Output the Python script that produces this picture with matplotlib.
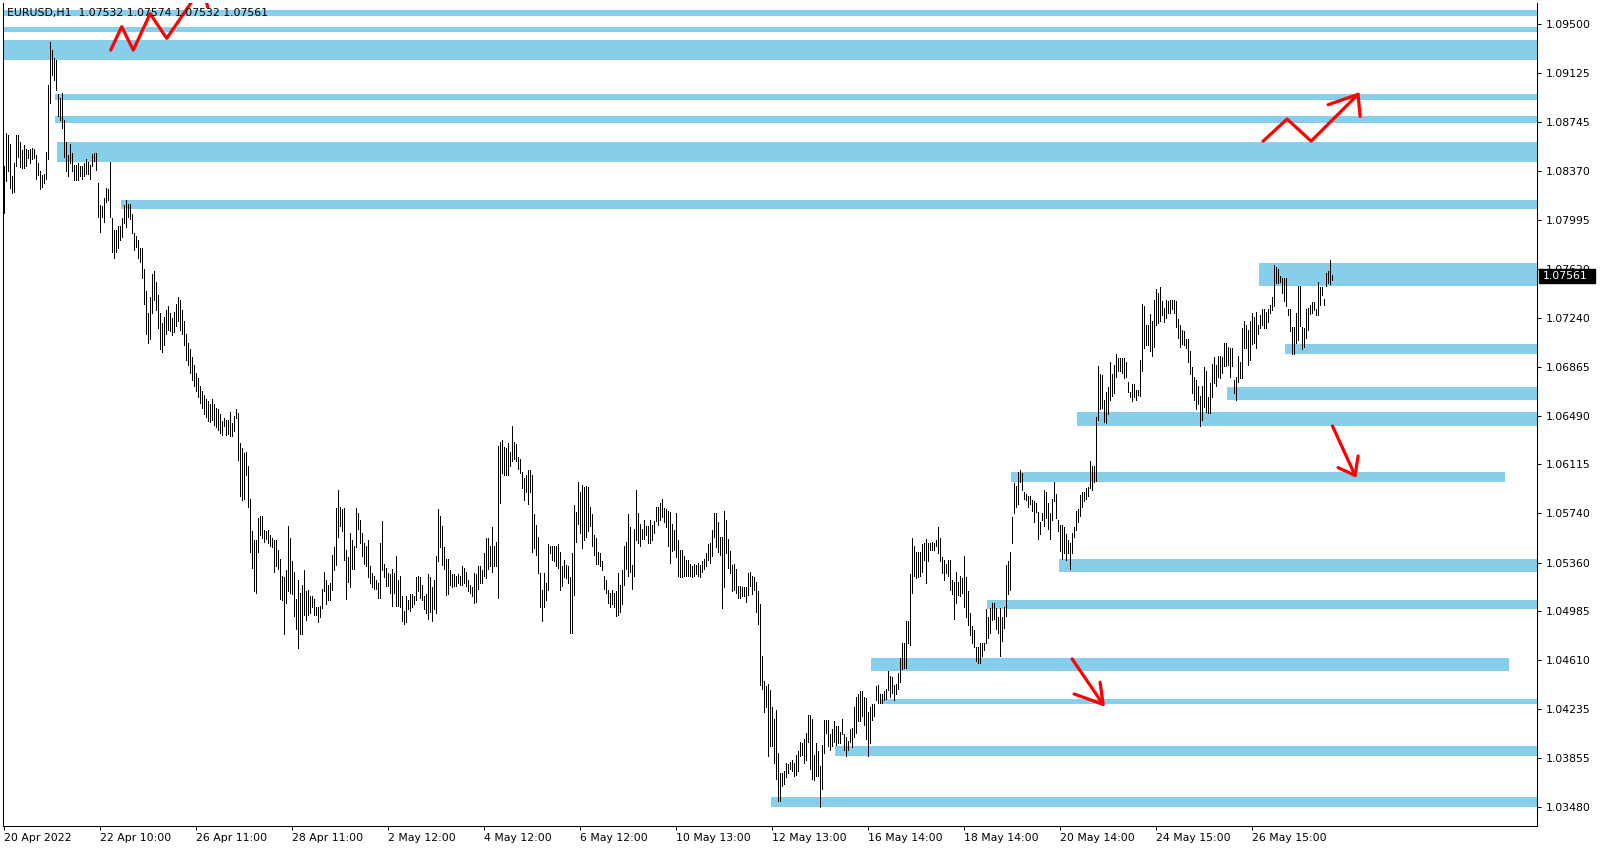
import matplotlib
matplotlib.use("Agg")
import matplotlib.pyplot as plt
from matplotlib.patches import Rectangle
from matplotlib.transforms import blended_transform_factory
import numpy as np

plt.rcParams['font.family'] = ['DejaVu Sans']

# ---------------- data ----------------
title_text = "EURUSD,H1  1.07532 1.07574 1.07532 1.07561"
last_price = 1.07561

bar_high = [
 1.0841,1.0866,1.0865,1.0858,1.0833,1.0843,1.0865,1.0865,1.0859,1.0853,
 1.0857,1.0854,1.0853,1.0854,1.0855,1.0854,1.0849,1.0843,1.0837,1.0834,
 1.0835,1.0852,1.0903,1.0936,1.0930,1.0924,1.0922,1.0896,1.0893,1.0897,
 1.0876,1.0859,1.0849,1.0858,1.0851,1.0842,1.0842,1.0843,1.0841,1.0841,
 1.0843,1.0846,1.0844,1.0842,1.0850,1.0851,1.0851,1.0828,1.0811,1.0810,
 1.0816,1.0824,1.0823,1.0844,1.0801,1.0792,1.0792,1.0795,1.0795,1.0801,
 1.0811,1.0815,1.0812,1.0812,1.0804,1.0789,1.0787,1.0784,1.0778,1.0778,
 1.0762,1.0745,1.0728,1.0740,1.0758,1.0760,1.0752,1.0742,1.0728,1.0720,
 1.0725,1.0730,1.0733,1.0728,1.0724,1.0729,1.0735,1.0740,1.0738,1.0730,
 1.0722,1.0712,1.0705,1.0700,1.0694,1.0688,1.0682,1.0678,1.0672,1.0668,
 1.0665,1.0662,1.0660,1.0658,1.0662,1.0658,1.0655,1.0654,1.0650,
 1.0645,1.0647,1.0646,1.0646,1.0652,1.0643,1.0649,1.0654,1.0651,1.0628,
 1.0624,1.0620,1.0621,1.0610,1.0585,1.0560,1.0553,1.0553,1.0570,1.0572,
 1.0572,1.0561,1.0560,1.0561,1.0557,1.0555,1.0553,1.0553,1.0546,1.0539,
 1.0526,1.0525,1.0530,1.0564,1.0555,1.0537,1.0529,1.0508,1.0523,1.0513,
 1.0519,1.0530,1.0514,1.0515,1.0510,1.0510,1.0508,1.0502,1.0502,1.0503,
 1.0516,1.0529,1.0523,1.0519,1.0520,1.0542,1.0548,1.0578,1.0592,1.0579,
 1.0577,1.0578,1.0546,1.0540,1.0559,1.0553,1.0549,1.0578,1.0574,1.0569,
 1.0559,1.0551,1.0549,1.0553,1.0533,1.0528,1.0526,1.0523,1.0520,1.0551,
 1.0568,1.0535,1.0532,1.0528,1.0527,1.0531,1.0528,1.0541,1.0523,1.0526,
 1.0510,1.0499,1.0510,1.0507,1.0512,1.0512,1.0510,1.0525,1.0526,1.0525,
 1.0519,1.0510,1.0512,1.0527,1.0525,1.0517,1.0523,1.0541,1.0577,
 1.0572,1.0564,1.0548,1.0539,1.0539,1.0530,1.0527,1.0527,1.0526,1.0527,
 1.0526,1.0533,1.0532,1.0529,1.0523,1.0519,1.0517,1.0528,1.0527,1.0533,
 1.0533,1.0530,1.0543,1.0555,1.0555,1.0549,1.0563,1.0549,1.0552,1.0626,
 1.0629,1.0630,1.0625,1.0624,1.0628,1.0621,1.0641,1.0629,1.0627,1.0617,
 1.0616,1.0606,1.0601,1.0603,1.0607,1.0607,1.0603,1.0573,1.0565,1.0556,
 1.0528,1.0515,1.0528,1.0520,1.0550,1.0549,1.0549,1.0549,1.0549,1.0550,
 1.0544,1.0533,1.0538,1.0534,1.0533,1.0525,1.0543,1.0580,1.0575,1.0598,
 1.0590,1.0596,1.0594,1.0595,1.0594,1.0579,1.0573,1.0557,1.0555,1.0544,
 1.0543,1.0537,1.0526,1.0523,1.0515,1.0513,1.0515,1.0513,1.0514,1.0528,
 1.0519,1.0530,1.0549,1.0552,1.0573,1.0563,1.0534,1.0562,1.0592,1.0574,
 1.0566,1.0562,1.0569,1.0564,1.0564,1.0569,1.0565,1.0568,1.0579,1.0579,
 1.0582,1.0585,1.0578,1.0577,1.0576,1.0575,1.0566,1.0561,1.0574,
 1.0553,1.0546,1.0546,1.0541,1.0538,1.0538,1.0535,1.0533,1.0535,1.0534,
 1.0536,1.0534,1.0537,1.0539,1.0543,1.0550,1.0551,1.0561,1.0574,1.0574,
 1.0567,1.0556,1.0556,1.0576,1.0569,1.0554,1.0545,1.0534,1.0535,1.0531,
 1.0518,1.0518,1.0517,1.0517,1.0517,1.0528,1.0529,1.0526,1.0525,1.0521,
 1.0514,1.0504,1.0464,1.0445,1.0441,1.0443,1.0438,1.0425,1.0416,1.0423,
 1.0390,1.0374,1.0374,1.0376,1.0382,1.0381,1.0383,1.0384,1.0382,1.0388,
 1.0391,1.0398,1.0397,1.0400,1.0405,1.0419,1.0419,1.0416,1.0388,1.0397,
 1.0391,1.0380,1.0396,1.0415,1.0415,1.0415,1.0404,1.0408,1.0414,1.0410,
 1.0410,1.0406,1.0416,1.0404,1.0402,1.0399,1.0408,1.0409,1.0425,1.0433,
 1.0435,1.0437,1.0437,1.0433,1.0432,1.0421,1.0425,1.0427,1.0427,1.0441,
 1.0442,1.0435,1.0435,1.0437,1.0439,1.0453,1.0449,1.0448,1.0442,1.0443,
 1.0451,1.0463,
 1.0474,1.0474,1.0491,1.0491,1.0527,1.0555,1.0549,1.0544,1.0544,1.0544,
 1.0550,1.0551,1.0554,1.0551,1.0551,1.0552,1.0551,1.0553,1.0563,1.0555,
 1.0540,1.0538,1.0535,1.0538,1.0538,1.0523,1.0521,1.0529,1.0521,1.0526,
 1.0524,1.0541,1.0525,1.0514,1.0497,1.0487,1.0484,1.0471,1.0471,1.0474,
 1.0474,1.0474,1.0500,1.0494,1.0501,1.0505,1.0505,1.0501,1.0494,1.0501,
 1.0494,1.0502,1.0534,1.0537,1.0544,1.0571,1.0597,1.0595,1.0606,1.0607,
 1.0605,1.0590,1.0589,1.0587,1.0587,1.0584,1.0583,1.0582,1.0575,1.0567,
 1.0574,1.0592,1.0590,1.0582,1.0574,1.0585,1.0598,1.0589,1.0569,1.0565,
 1.0565,1.0563,1.0558,1.0553,1.0551,1.0559,1.0563,1.0576,1.0577,1.0588,
 1.0590,1.0590,1.0593,1.0594,1.0614,1.0610,1.0610,1.0648,1.0687,1.0681,
 1.0680,1.0661,1.0667,1.0671,1.0690,1.0681,1.0688,
 1.0696,1.0693,1.0693,1.0693,1.0693,1.0690,1.0675,1.0667,1.0673,1.0673,
 1.0669,1.0669,1.0692,1.0735,1.0733,1.0719,1.0719,1.0727,1.0722,1.0738,
 1.0746,1.0743,1.0748,1.0737,1.0732,1.0738,1.0737,1.0738,1.0738,1.0738,
 1.0737,1.0723,1.0719,1.0715,1.0714,1.0708,1.0708,1.0699,1.0686,1.0679,
 1.0676,1.0672,1.0664,1.0672,1.0686,1.0683,1.0663,1.0674,1.0689,1.0694,
 1.0688,1.0695,1.0695,1.0694,1.0705,1.0705,1.0702,1.0701,1.0701,1.0676,
 1.0679,1.0695,1.0690,1.0716,1.0722,1.0719,1.0715,1.0722,1.0728,1.0725,
 1.0729,1.0719,1.0726,1.0731,1.0731,1.0729,1.0731,1.0734,1.0740,1.0765,
 1.0763,1.0762,1.0756,1.0755,1.0755,1.0755,1.0731,1.0731,1.0717,1.0717,
 1.0728,1.0749,1.0749,1.0717,1.0716,1.0731,1.0732,1.0734,1.0736,1.0736,
 1.0731,1.0752,1.0748,1.0748,1.0739,1.0759,1.0760,1.0769,1.07574,
]

bar_low = [
 1.0805,1.0829,1.0837,1.0824,1.0820,1.0821,1.0841,1.0848,1.0840,1.0839,
 1.0839,1.0841,1.0847,1.0843,1.0846,1.0847,1.0831,1.0834,1.0823,1.0825,
 1.0828,1.0831,1.0846,1.0889,1.0911,1.0907,1.0899,1.0879,1.0876,1.0870,
 1.0848,1.0837,1.0833,1.0843,1.0837,1.0830,1.0830,1.0830,1.0833,1.0831,
 1.0833,1.0835,1.0835,1.0831,1.0841,1.0845,1.0838,1.0802,1.0790,1.0802,
 1.0798,1.0813,1.0815,1.0802,1.0775,1.0770,1.0775,1.0778,1.0784,1.0786,
 1.0797,1.0794,1.0802,1.0800,1.0789,1.0776,1.0779,1.0770,1.0767,1.0755,
 1.0735,1.0712,1.0705,1.0708,1.0728,1.0738,1.0730,1.0716,1.0700,1.0698,
 1.0703,1.0712,1.0715,1.0714,1.0711,1.0713,1.0718,1.0722,1.0715,1.0712,
 1.0703,1.0692,1.0688,1.0682,1.0676,1.0672,1.0668,1.0663,1.0659,1.0655,
 1.0650,1.0648,1.0645,1.0644,1.0646,1.0642,1.0640,1.0638,1.0636,
 1.0634,1.0641,1.0634,1.0635,1.0633,1.0633,1.0637,1.0647,1.0615,1.0587,
 1.0584,1.0585,1.0603,1.0579,1.0544,1.0532,1.0514,1.0513,1.0544,1.0557,
 1.0555,1.0552,1.0554,1.0551,1.0549,1.0548,1.0529,1.0533,1.0531,1.0508,
 1.0507,1.0481,1.0505,1.0514,1.0513,1.0512,1.0495,1.0485,1.0470,1.0481,
 1.0481,1.0496,1.0492,1.0496,1.0497,1.0502,1.0496,1.0496,1.0490,1.0494,
 1.0501,1.0514,1.0504,1.0507,1.0507,1.0515,1.0530,1.0534,1.0556,1.0564,
 1.0560,1.0538,1.0508,1.0521,1.0517,1.0531,1.0531,1.0548,1.0562,1.0551,
 1.0541,1.0535,1.0533,1.0525,1.0520,1.0517,1.0516,1.0516,1.0509,1.0509,
 1.0530,1.0525,1.0518,1.0518,1.0513,1.0503,1.0513,1.0503,1.0503,1.0502,
 1.0491,1.0489,1.0490,1.0500,1.0499,1.0502,1.0504,1.0507,1.0514,1.0509,
 1.0507,1.0500,1.0497,1.0493,1.0498,1.0491,1.0500,1.0497,1.0537,
 1.0548,1.0534,1.0531,1.0511,1.0512,1.0519,1.0517,1.0518,1.0518,1.0520,
 1.0519,1.0519,1.0520,1.0518,1.0514,1.0513,1.0510,1.0505,1.0506,1.0516,
 1.0520,1.0520,1.0526,1.0524,1.0531,1.0533,1.0529,1.0533,1.0533,1.0509,
 1.0582,1.0605,1.0603,1.0603,1.0603,1.0610,1.0614,1.0616,1.0614,1.0608,
 1.0605,1.0593,1.0584,1.0590,1.0581,1.0590,1.0544,1.0547,1.0542,1.0528,
 1.0502,1.0491,1.0502,1.0507,1.0515,1.0543,1.0538,1.0537,1.0533,1.0532,
 1.0515,1.0518,1.0525,1.0524,1.0520,1.0482,1.0482,1.0511,1.0552,1.0566,
 1.0559,1.0547,1.0553,1.0556,1.0560,1.0564,1.0549,1.0542,1.0535,1.0535,
 1.0533,1.0530,1.0516,1.0513,1.0505,1.0502,1.0504,1.0502,1.0495,1.0496,
 1.0498,1.0504,1.0519,1.0531,1.0526,1.0529,1.0516,1.0526,1.0553,1.0551,
 1.0549,1.0554,1.0554,1.0557,1.0551,1.0551,1.0553,1.0559,1.0568,1.0565,
 1.0569,1.0571,1.0567,1.0563,1.0549,1.0536,1.0545,1.0546,1.0540,
 1.0526,1.0525,1.0525,1.0526,1.0526,1.0526,1.0526,1.0525,1.0526,1.0527,
 1.0526,1.0525,1.0529,1.0531,1.0533,1.0538,1.0536,1.0541,1.0556,1.0548,
 1.0544,1.0542,1.0501,1.0517,1.0543,1.0532,1.0528,1.0514,1.0515,1.0513,
 1.0509,1.0509,1.0510,1.0510,1.0506,1.0511,1.0518,1.0512,1.0515,1.0498,
 1.0489,1.0442,1.0439,1.0421,1.0425,1.0387,1.0395,1.0395,1.0382,1.0370,
 1.0353,1.0353,1.0364,1.0366,1.0371,1.0374,1.0377,1.0376,1.0372,1.0373,
 1.0376,1.0387,1.0388,1.0382,1.0384,1.0398,1.0377,1.0370,1.0369,1.0372,
 1.0372,1.0348,1.0362,1.0390,1.0405,1.0395,1.0392,1.0395,1.0398,1.0396,
 1.0397,1.0397,1.0404,1.0392,1.0387,1.0392,1.0398,1.0394,1.0402,1.0405,
 1.0414,1.0414,1.0418,1.0411,1.0400,1.0387,1.0397,1.0415,1.0418,1.0430,
 1.0428,1.0428,1.0428,1.0430,1.0431,1.0438,1.0433,1.0436,1.0430,1.0435,
 1.0439,1.0444,
 1.0454,1.0455,1.0455,1.0474,1.0473,1.0513,1.0526,1.0524,1.0525,1.0526,
 1.0529,1.0538,1.0520,1.0537,1.0546,1.0546,1.0546,1.0549,1.0543,1.0537,
 1.0528,1.0523,1.0528,1.0526,1.0515,1.0512,1.0493,1.0505,1.0511,1.0510,
 1.0513,1.0502,1.0494,1.0488,1.0480,1.0474,1.0471,1.0460,1.0459,1.0459,
 1.0464,1.0469,1.0474,1.0478,1.0482,1.0492,1.0493,1.0485,1.0482,1.0464,
 1.0476,1.0486,1.0495,1.0512,1.0515,1.0551,1.0574,1.0579,1.0581,1.0598,
 1.0592,1.0585,1.0584,1.0579,1.0581,1.0576,1.0567,1.0575,1.0554,1.0558,
 1.0569,1.0564,1.0570,1.0562,1.0554,1.0569,1.0583,1.0570,1.0560,1.0545,
 1.0539,1.0543,1.0538,1.0543,1.0531,1.0543,1.0556,1.0561,1.0567,1.0572,
 1.0579,1.0583,1.0585,1.0587,1.0593,1.0592,1.0598,1.0599,1.0646,1.0654,
 1.0655,1.0644,1.0643,1.0650,1.0661,1.0664,1.0666,
 1.0679,1.0683,1.0683,1.0682,1.0678,1.0679,1.0667,1.0663,1.0660,1.0663,
 1.0661,1.0665,1.0664,1.0683,1.0701,1.0703,1.0703,1.0699,1.0695,1.0702,
 1.0719,1.0720,1.0722,1.0726,1.0721,1.0724,1.0728,1.0728,1.0731,1.0728,
 1.0717,1.0709,1.0702,1.0704,1.0703,1.0701,1.0690,1.0681,1.0666,1.0661,
 1.0654,1.0658,1.0641,1.0646,1.0656,1.0652,1.0651,1.0651,1.0663,1.0674,
 1.0672,1.0679,1.0678,1.0682,1.0687,1.0687,1.0688,1.0679,1.0687,1.0666,
 1.0661,1.0675,1.0678,1.0678,1.0701,1.0701,1.0688,1.0692,1.0704,1.0705,
 1.0701,1.0712,1.0716,1.0719,1.0716,1.0716,1.0721,1.0728,1.0730,1.0733,
 1.0751,1.0751,1.0752,1.0743,1.0737,1.0733,1.0726,1.0714,1.0696,1.0696,
 1.0705,1.0707,1.0718,1.0700,1.0702,1.0709,1.0715,1.0727,1.0728,1.0730,
 1.0726,1.0726,1.0734,1.0742,1.0734,1.0749,1.0751,1.0750,1.07532,
]

x_tick_bars = [0, 48, 96, 144, 192, 240, 288, 336, 384, 432, 480, 528, 576, 624]
x_tick_labels = ["20 Apr 2022", "22 Apr 10:00", "26 Apr 11:00", "28 Apr 11:00",
                 "2 May 12:00", "4 May 12:00", "6 May 12:00", "10 May 13:00",
                 "12 May 13:00", "16 May 14:00", "18 May 14:00", "20 May 14:00",
                 "24 May 15:00", "26 May 15:00"]

y_tick_values = [1.09500, 1.09125, 1.08745, 1.08370, 1.07995, 1.07620, 1.07240,
                 1.06865, 1.06490, 1.06115, 1.05740, 1.05360, 1.04985, 1.04610,
                 1.04235, 1.03855, 1.03480]

# support / resistance zones (start bar, end bar, upper price, lower price)
zone_start = [-1, -1, -1, 25.4, 25.4, 26.4, 58.4, 627.4, 640.4, 611.4, 536.4,
              503.4, 527.4, 491.4, 433.4, 438.4, 415.4, 383.4]
zone_end = [770, 770, 770, 770, 770, 770, 770, 770, 770, 770, 770,
            750.4, 770, 770, 752.4, 770, 770, 770]
zone_top = [1.0961, 1.0948, 1.0938, 1.0896, 1.0879, 1.0859, 1.0815, 1.0766,
            1.0704, 1.0671, 1.0652, 1.0606, 1.0539, 1.0507, 1.0463, 1.0431,
            1.0395, 1.0356]
zone_bottom = [1.0956, 1.0944, 1.0922, 1.0892, 1.0874, 1.0844, 1.0808, 1.0749,
               1.0696, 1.0661, 1.0641, 1.0598, 1.0529, 1.0500, 1.0453, 1.0427,
               1.0387, 1.0348]

# hand-drawn red arrows (bar index, price)
arrow1_x = [53.2, 58.7, 64.5, 72.9, 81.2, 97.7]
arrow1_y = [1.0930, 1.0948, 1.0930, 1.0958, 1.0939, 1.0976]
arrow1_head_x = [99.8, 101.7]
arrow1_head_y = [1.0975, 1.0963]

arrow2_x = [629.4, 641.4, 653.4, 676.9]
arrow2_y = [1.0860, 1.0877, 1.0860, 1.0896]
arrow2_head_x = [661.9, 676.9, 677.9]
arrow2_head_y = [1.0888, 1.0896, 1.0879]

arrow3_x = [664.1, 675.4]
arrow3_y = [1.0641, 1.0603]
arrow3_head_x = [666.9, 675.4, 676.9]
arrow3_head_y = [1.0609, 1.0603, 1.0618]

arrow4_x = [533.9, 549.4]
arrow4_y = [1.0462, 1.0427]
arrow4_head_x = [534.9, 549.4, 547.9]
arrow4_head_y = [1.0435, 1.0427, 1.0444]

# ---------------- figure ----------------
W, H = 1601, 850
fig = plt.figure(figsize=(W / 100, H / 100), dpi=100)
fig.patch.set_facecolor("white")
ax = fig.add_axes([3 / W, 24 / H, 1534 / W, 823 / H])
ax.set_facecolor("white")

ax.set_xlim(-0.65, 766.35)
ax.set_ylim(1.03335, 1.09662)

zone_color = "#87CEEB"
for xs, xe, top, bot in zip(zone_start, zone_end, zone_top, zone_bottom):
    ax.fill_between([xs, xe], [bot, bot], [top, top], color=zone_color,
                    lw=0, zorder=1)

idx = np.arange(len(bar_high))
ax.vlines(idx, bar_low, bar_high, colors="black", linewidth=0.45,
          antialiased=False, zorder=2)

red_kw = dict(color="#FF0000", lw=2.3, solid_capstyle="round",
              solid_joinstyle="round", zorder=4)
ax.plot(arrow1_x, arrow1_y, **red_kw)
ax.plot(arrow1_head_x, arrow1_head_y, **red_kw)
ax.plot(arrow2_x, arrow2_y, **red_kw)
ax.plot(arrow2_head_x, arrow2_head_y, **red_kw)
ax.plot(arrow3_x, arrow3_y, **red_kw)
ax.plot(arrow3_head_x, arrow3_head_y, **red_kw)
ax.plot(arrow4_x, arrow4_y, **red_kw)
ax.plot(arrow4_head_x, arrow4_head_y, **red_kw)

# axes styling (MetaTrader look)
for side in ("left", "bottom", "right"):
    ax.spines[side].set_color("black")
    ax.spines[side].set_linewidth(0.75)
ax.spines["top"].set_visible(False)

ax.yaxis.tick_right()
ax.set_yticks(y_tick_values)
ax.set_yticklabels([f"{v:.5f}" for v in y_tick_values])
ax.set_xticks(x_tick_bars)
ax.set_xticklabels(x_tick_labels, ha="left")
ax.tick_params(axis="y", direction="out", length=3, width=0.75, pad=3,
               labelsize=7.8, colors="black")
ax.tick_params(axis="x", direction="out", length=3, width=0.75, pad=2,
               labelsize=7.8, colors="black")

# title in upper-left corner
ax.text(0.0027, 0.988, title_text, transform=ax.transAxes, fontsize=7.8,
        va="center", ha="left", color="black", zorder=6)

# last price tag (covers part of the neighbouring axis label, as in MT4)
trans = blended_transform_factory(ax.transAxes, ax.transData)
tag_h = 0.00108
ax.add_patch(Rectangle((1.0013, last_price - tag_h / 2), 0.0365, tag_h,
                       transform=trans, facecolor="black", edgecolor="black",
                       clip_on=False, zorder=8))
ax.text(1.0040, last_price, f"{last_price:.5f}", transform=trans,
        fontsize=7.8, color="white", va="center", ha="left",
        clip_on=False, zorder=9)

fig.savefig("out.png", dpi=100, facecolor="white")
